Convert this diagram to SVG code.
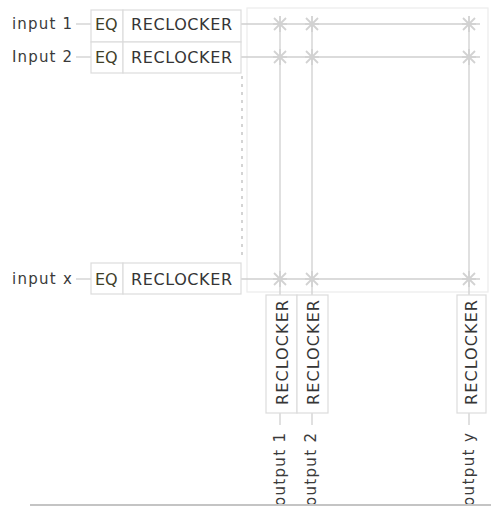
<svg xmlns="http://www.w3.org/2000/svg" xmlns:xlink="http://www.w3.org/1999/xlink" width="491" height="508" viewBox="0 0 491 508">
<style>
  .lbl{font-family:"DejaVu Sans","Liberation Sans",sans-serif;font-size:15px;fill:#3a3a3a}
  .eq{font-family:"DejaVu Sans","Liberation Sans",sans-serif;font-size:16px;fill:#404028}
  .rc{font-family:"DejaVu Sans","Liberation Sans",sans-serif;font-size:16px;fill:#353535}
  .box{fill:#ffffff;stroke:#dcdcdc;stroke-width:1.2}
  .frame{fill:none;stroke:#ececec;stroke-width:1.2}
  .wire{fill:none;stroke:#cfcfcf;stroke-width:1.3}
  .dots{fill:none;stroke:#bdbdbd;stroke-width:1.3;stroke-dasharray:3 5}
  .star{stroke:#d2d2d2;stroke-width:1.8}
</style>
<defs>
  <g id="star" class="star">
    <line x1="-7" y1="0" x2="7" y2="0"/>
    <line x1="0" y1="-8" x2="0" y2="8"/>
    <line x1="-6" y1="-6" x2="6" y2="6"/>
    <line x1="-6" y1="6" x2="6" y2="-6"/>
  </g>
</defs>
<rect x="0" y="0" width="491" height="508" fill="#ffffff"/>

<rect class="frame" x="247" y="8" width="241" height="284"/>

<g id="connectors">
  <line class="wire" x1="76" y1="24" x2="91" y2="24"/>
  <line class="wire" x1="76" y1="57" x2="91" y2="57"/>
  <line class="wire" x1="76" y1="279" x2="91" y2="279"/>
  <line class="wire" x1="241" y1="24" x2="480" y2="24"/>
  <line class="wire" x1="241" y1="57" x2="480" y2="57"/>
  <line class="wire" x1="241" y1="279" x2="480" y2="279"/>
  <line class="wire" x1="280" y1="24" x2="280" y2="295"/>
  <line class="wire" x1="312" y1="24" x2="312" y2="295"/>
  <line class="wire" x1="469" y1="24" x2="469" y2="295"/>
  <line class="wire" x1="280" y1="413" x2="280" y2="425"/>
  <line class="wire" x1="312" y1="413" x2="312" y2="425"/>
  <line class="wire" x1="469" y1="413" x2="469" y2="425"/>
  <line class="dots" x1="242" y1="76" x2="242" y2="260"/>
  <use xlink:href="#star" href="#star" x="280" y="24"/>
  <use xlink:href="#star" href="#star" x="312" y="24"/>
  <use xlink:href="#star" href="#star" x="469" y="24"/>
  <use xlink:href="#star" href="#star" x="280" y="57"/>
  <use xlink:href="#star" href="#star" x="312" y="57"/>
  <use xlink:href="#star" href="#star" x="469" y="57"/>
  <use xlink:href="#star" href="#star" x="280" y="279"/>
  <use xlink:href="#star" href="#star" x="312" y="279"/>
  <use xlink:href="#star" href="#star" x="469" y="279"/>
</g>

<g id="input1">
  <text class="lbl" x="12" y="29" textLength="60" lengthAdjust="spacing">input 1</text>
  <rect class="box" x="91" y="10" width="32" height="32"/>
  <text class="eq" x="95" y="30">EQ</text>
  <rect class="box" x="123" y="10" width="118" height="32"/>
  <text class="rc" x="131" y="30" textLength="101" lengthAdjust="spacing">RECLOCKER</text>
</g>

<g id="input2">
  <text class="lbl" x="12" y="62" textLength="60" lengthAdjust="spacing">Input 2</text>
  <rect class="box" x="91" y="42" width="32" height="31"/>
  <text class="eq" x="95" y="63">EQ</text>
  <rect class="box" x="123" y="42" width="118" height="31"/>
  <text class="rc" x="131" y="63" textLength="101" lengthAdjust="spacing">RECLOCKER</text>
</g>

<g id="inputx">
  <text class="lbl" x="12" y="284" textLength="60" lengthAdjust="spacing">input x</text>
  <rect class="box" x="91" y="263" width="32" height="31"/>
  <text class="eq" x="95" y="285">EQ</text>
  <rect class="box" x="123" y="263" width="118" height="31"/>
  <text class="rc" x="131" y="285" textLength="101" lengthAdjust="spacing">RECLOCKER</text>
</g>

<g id="output1">
  <rect class="box" x="266" y="295" width="31" height="118"/>
  <text class="rc" transform="translate(288,405) rotate(-90)" textLength="105" lengthAdjust="spacing">RECLOCKER</text>
  <text class="lbl" transform="translate(285,506) rotate(-90)" textLength="73" lengthAdjust="spacing">output 1</text>
</g>

<g id="output2">
  <rect class="box" x="297" y="295" width="31" height="118"/>
  <text class="rc" transform="translate(319,405) rotate(-90)" textLength="105" lengthAdjust="spacing">RECLOCKER</text>
  <text class="lbl" transform="translate(316,506) rotate(-90)" textLength="73" lengthAdjust="spacing">output 2</text>
</g>

<g id="outputy">
  <rect class="box" x="457" y="295" width="29" height="118"/>
  <text class="rc" transform="translate(477,405) rotate(-90)" textLength="105" lengthAdjust="spacing">RECLOCKER</text>
  <text class="lbl" transform="translate(474,506) rotate(-90)" textLength="73" lengthAdjust="spacing">output y</text>
</g>

<line x1="30" y1="505" x2="491" y2="505" stroke="#c4c4c4" stroke-width="2"/>
</svg>
